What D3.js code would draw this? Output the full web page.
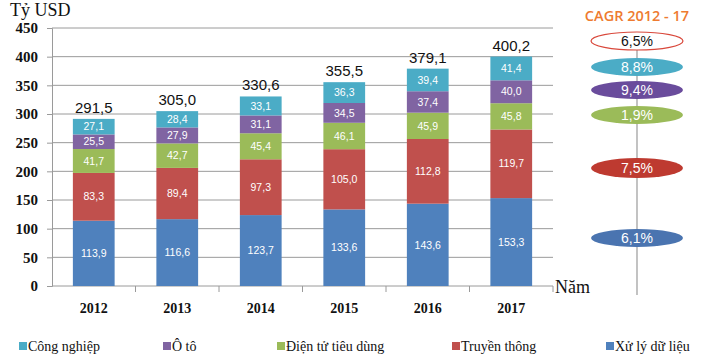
<!DOCTYPE html>
<html><head><meta charset="utf-8">
<script src="https://cdn.jsdelivr.net/npm/d3@7"></script>
<style>body{margin:0;background:#fff}svg{display:block}
.serif{font-family:"Liberation Serif","Times New Roman",Times,"DejaVu Serif",serif !important}
.sans{font-family:"Liberation Sans",Arial,Helvetica,sans-serif}
</style>
</head><body><svg id="c" width="705" height="355"></svg>
<script>
const years = ["2012","2013","2014","2015","2016","2017"];
const seriesNames = ["Xử lý dữ liệu","Truyền thông","Điện tử tiêu dùng","Ô tô","Công nghiệp"];
const dataProcessing = [113.9,116.6,123.7,133.6,143.6,153.3];
const communication = [83.3,89.4,97.3,105.0,112.8,119.7];
const consumerElectronics = [41.7,42.7,45.4,46.1,45.9,45.8];
const automotive = [25.5,27.9,31.1,34.5,37.4,40.0];
const industrial = [27.1,28.4,33.1,36.3,39.4,41.4];
const totals = [291.5,305.0,330.6,355.5,379.1,400.2];
const yTicks = [0,50,100,150,200,250,300,350,400,450];
const cagrLabels = ["6,5%","8,8%","9,4%","1,9%","7,5%","6,1%"];
const legendOrder = ["Công nghiệp","Ô tô","Điện tử tiêu dùng","Truyền thông","Xử lý dữ liệu"];

const colors = {"Xử lý dữ liệu":"#4F81BD","Truyền thông":"#C0504D","Điện tử tiêu dùng":"#9BBB59","Ô tô":"#8064A2","Công nghiệp":"#4BACC6"};
const seriesVals = [dataProcessing,communication,consumerElectronics,automotive,industrial];

const svg = d3.select("#c");
const x = d3.scaleBand().domain(years).range([52,553]).paddingInner(0.5).paddingOuter(0.25);
const y = d3.scaleLinear().domain([0,450]).range([286,28]);
const fmt = v => v.toFixed(1).replace(".",",");

// gridlines
svg.append("g").selectAll("line").data(yTicks.slice(1)).join("line")
  .attr("x1",52).attr("x2",553).attr("y1",d=>y(d)).attr("y2",d=>y(d))
  .attr("stroke","#9a9a9a").attr("stroke-width",1);

// y axis
const ya = svg.append("g").attr("transform","translate(52,0)")
  .call(d3.axisLeft(y).tickValues(yTicks).tickSize(5).tickPadding(9));
ya.attr("font-family",null);
ya.select(".domain").attr("stroke","#9a9a9a");
ya.selectAll(".tick line").attr("stroke","#9a9a9a");
ya.selectAll("text").attr("class","serif").attr("font-weight","bold").attr("font-size","15px").attr("fill","#111");

// x axis
const xa = svg.append("g").attr("transform","translate(0,286)")
  .call(d3.axisBottom(x).tickSize(0).tickPadding(17));
xa.attr("font-family",null);
xa.select(".domain").attr("stroke","#9a9a9a").attr("d","M52,0H553V6");
xa.selectAll("text").attr("class","serif").attr("font-weight","bold").attr("font-size","14px").attr("fill","#111");
const step = x.step();
svg.append("g").selectAll("line").data(years.slice(1)).join("line")
  .attr("x1",d=>x(d)-step*0.25).attr("x2",d=>x(d)-step*0.25).attr("y1",286).attr("y2",292)
  .attr("stroke","#9a9a9a");

// stacks
const rows = years.map((yr,i)=>{const o={year:yr}; seriesNames.forEach((s,j)=>o[s]=seriesVals[j][i]); return o;});
const stack = d3.stack().keys(seriesNames)(rows);
const g = svg.append("g");
stack.forEach(layer=>{
  g.selectAll(null).data(layer).join("rect")
    .attr("x",d=>x(d.data.year)).attr("width",x.bandwidth())
    .attr("y",d=>y(d[1])).attr("height",d=>y(d[0])-y(d[1]))
    .attr("fill",colors[layer.key]);
  g.selectAll(null).data(layer).join("text")
    .attr("class","sans")
    .attr("x",d=>x(d.data.year)+x.bandwidth()/2).attr("y",d=>(y(d[0])+y(d[1]))/2)
    .attr("dy","0.35em").attr("text-anchor","middle")
    .attr("font-size","10.5px").attr("fill","#fff")
    .text(d=>fmt(d[1]-d[0]));
});
svg.append("g").selectAll("text").data(totals).join("text")
  .attr("class","sans")
  .attr("x",(d,i)=>x(years[i])+x.bandwidth()/2).attr("y",d=>y(d)-6)
  .attr("text-anchor","middle")
  .attr("font-size","15px").attr("fill","#111").text(d=>fmt(d));

// axis titles
svg.append("text").attr("class","serif").attr("x",10).attr("y",16).attr("font-size","18px").attr("fill","#111").text("Tỷ USD");
svg.append("text").attr("class","serif").attr("x",555).attr("y",293).attr("font-size","18px").attr("fill","#111").text("Năm");

// CAGR column
const cx = 637;
svg.append("text").attr("x",cx).attr("y",21).attr("text-anchor","middle")
  .attr("font-family","'Open Sans',sans-serif").attr("font-weight","600").attr("font-size","14.5px").attr("fill","#EE7B30").text("CAGR 2012 - 17");
svg.append("line").attr("x1",cx).attr("x2",cx).attr("y1",48).attr("y2",295).attr("stroke","#9a9a9a").attr("stroke-width",1.2);
const ovalY = [41,67,90,115,168,238];
const ovalFill = ["#fff","#4BACC6","#6A4C9C","#9BBB59","#BE3A30","#4A74B0"];
const og = svg.append("g").selectAll("g").data(cagrLabels).join("g");
og.append("ellipse").attr("cx",cx).attr("cy",(d,i)=>ovalY[i]).attr("rx",46).attr("ry",(d,i)=>i===4?10:9)
  .attr("fill",(d,i)=>ovalFill[i]).attr("stroke",(d,i)=>i===0?"#D9483B":"none").attr("stroke-width",1.2);
og.append("text").attr("class","sans").attr("x",cx).attr("y",(d,i)=>ovalY[i]).attr("dy","0.36em").attr("text-anchor","middle")
  .attr("font-size","14px")
  .attr("fill",(d,i)=>i===0?"#111":"#fff").text(d=>d);

// legend
const legX = [19,163,277,452,606];
const lg = svg.append("g").selectAll("g").data(legendOrder).join("g")
  .attr("transform",(d,i)=>`translate(${legX[i]},346)`);
lg.append("rect").attr("x",0).attr("y",-4).attr("width",8).attr("height",8).attr("fill",d=>colors[d]);
lg.append("text").attr("class","serif").attr("x",9).attr("y",0).attr("dy","0.35em")
  .attr("font-size","14px").attr("fill","#111").text(d=>d);
</script></body></html>
